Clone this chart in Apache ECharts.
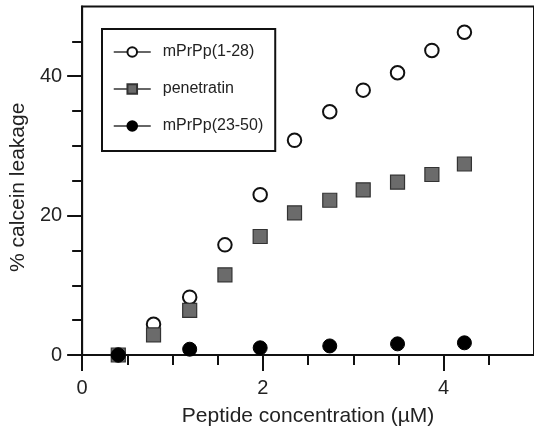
<!DOCTYPE html>
<html>
<head>
<meta charset="utf-8">
<script src="https://cdn.jsdelivr.net/npm/echarts@6/dist/echarts.min.js"></script>
<style>
  html, body { margin: 0; padding: 0; background: #fff; }
  #main { width: 534px; height: 432px; }
</style>
</head>
<body>
<div id="main"></div>
<script>
var seriesNames = ['mPrPp(1-28)', 'penetratin', 'mPrPp(23-50)'];

// concentrations (µM)
var concAll = [0.40, 0.79, 1.19, 1.58, 1.97, 2.35, 2.74, 3.11, 3.49, 3.87, 4.23];
var concLow = [0.40, 1.19, 1.97, 2.74, 3.49, 4.23];

// % calcein leakage
var leak1to28 = [0, 4.4, 8.3, 15.8, 23.0, 30.8, 34.9, 38.0, 40.5, 43.7, 46.3];
var leakPenetratin = [0, 2.9, 6.4, 11.5, 17.0, 20.4, 22.2, 23.7, 24.8, 25.9, 27.4];
var leak23to50 = [0, 0.83, 1.03, 1.3, 1.6, 1.75];

// ticks
var xMajorTicks = [0, 2, 4];
var xMinorTicks = [0.5, 1, 1.5, 2.5, 3, 3.5, 4.5];
var yMajorTicks = [0, 20, 40];
var yMinorTicks = [5, 10, 15, 25, 30, 35, 45];

function pairs(xs, ys) {
    return xs.map(function (x, i) { return [x, ys[i]]; });
}

var font = '"Liberation Sans", Arial, sans-serif';
var ink = '#222';
var axisColor = '#111';

var myChart = echarts.init(document.querySelector('#main'));

var option = {
    animation: false,
    textStyle: { fontFamily: font },
    grid: {
        left: 82,
        top: 6.5,
        right: -1,
        bottom: 75.5,
        show: true,
        borderColor: axisColor,
        borderWidth: 2,
    },
    legend: {
        orient: 'vertical',
        left: 102,
        top: 29,
        padding: [15, 12, 17, 11],
        itemWidth: 37,
        itemHeight: 12,
        itemGap: 21,
        borderColor: axisColor,
        borderWidth: 2,
        borderRadius: 0,
        textStyle: { fontSize: 16, color: ink, padding: [0, 0, 0, 7] },
        lineStyle: { opacity: 1, width: 1.5, color: '#333' },
        data: seriesNames,
    },
    xAxis: [
        {
            type: 'value',
            min: 0,
            max: 5,
            name: 'Peptide concentration (µM)',
            nameLocation: 'middle',
            nameGap: 51,
            nameTextStyle: { fontSize: 21, color: ink },
            axisLine: { lineStyle: { color: axisColor, width: 2 } },
            axisTick: { length: 16, lineStyle: { color: axisColor, width: 2 }, customValues: xMajorTicks },
            axisLabel: { fontSize: 20, color: ink, margin: 23, customValues: xMajorTicks },
            splitLine: { show: false },
        },
        {
            type: 'value',
            min: 0,
            max: 5,
            position: 'bottom',
            axisLine: { show: false },
            axisTick: { length: 10, lineStyle: { color: axisColor, width: 2 }, customValues: xMinorTicks },
            axisLabel: { show: false },
            splitLine: { show: false },
        },
    ],
    yAxis: [
        {
            type: 'value',
            min: 0,
            max: 50,
            name: '% calcein leakage',
            nameLocation: 'middle',
            nameGap: 51,
            nameTextStyle: { fontSize: 21, color: ink, padding: [0, 13, 0, 0] },
            axisLine: { lineStyle: { color: axisColor, width: 2 } },
            axisTick: { length: 15, lineStyle: { color: axisColor, width: 2 }, customValues: yMajorTicks },
            axisLabel: { fontSize: 20, color: ink, margin: 20, customValues: yMajorTicks },
            splitLine: { show: false },
        },
        {
            type: 'value',
            min: 0,
            max: 50,
            position: 'left',
            axisLine: { show: false },
            axisTick: { length: 10, lineStyle: { color: axisColor, width: 2 }, customValues: yMinorTicks },
            axisLabel: { show: false },
            splitLine: { show: false },
        },
    ],
    series: [
        {
            name: seriesNames[0],
            type: 'line',
            data: pairs(concAll, leak1to28),
            symbol: 'circle',
            symbolSize: 13.5,
            lineStyle: { opacity: 0 },
            itemStyle: { color: '#fff', borderColor: '#111', borderWidth: 2 },
            z: 2,
        },
        {
            name: seriesNames[1],
            type: 'line',
            data: pairs(concAll, leakPenetratin),
            symbol: 'rect',
            symbolSize: 14,
            lineStyle: { opacity: 0 },
            itemStyle: { color: '#6b6b6b', borderColor: '#333', borderWidth: 1.2 },
            z: 3,
        },
        {
            name: seriesNames[2],
            type: 'line',
            data: pairs(concLow, leak23to50),
            symbol: 'circle',
            symbolSize: 14,
            lineStyle: { opacity: 0 },
            itemStyle: { color: '#000', borderColor: '#000', borderWidth: 1 },
            z: 4,
        },
    ],
};

myChart.setOption(option);
</script>
</body>
</html>
